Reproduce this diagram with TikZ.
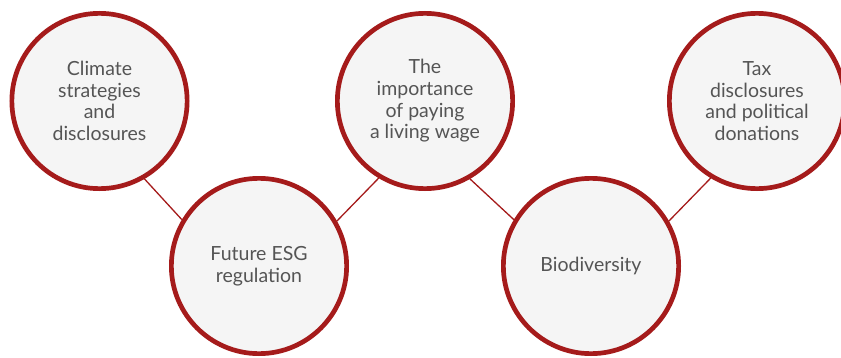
\documentclass[tikz,border=0pt]{standalone}
\usepackage{fontspec}
\setmainfont{Lato}
\usetikzlibrary{calc}

\definecolor{ringred}{HTML}{A51B1B}
\definecolor{discfill}{HTML}{F5F5F5}
\definecolor{labelgrey}{HTML}{555555}

\begin{document}
\begin{tikzpicture}[
		x=1pt,y=1pt,
		topic/.style={
			circle,
			draw=ringred,
			line width=4.7pt,
			fill=discfill,
			minimum size=175.3pt,
			inner sep=0pt,
			text=labelgrey,
			align=center,
			font=\fontsize{19.5}{21.7}\selectfont
		},
		link/.style={
			draw=ringred,
			line width=1.3pt
		}
	]
		\useasboundingbox (0,0) rectangle (841,357);

		\node[topic] (t1) at (99.5,256) {Climate\\strategies\\and\\disclosures};
		\node[topic] (t2) at (259,91) {Future ESG\\regulation};
		\node[topic] (t3) at (425,256) {The\\importance\\of paying\\a living wage};
		\node[topic] (t4) at (591,91) {Biodiversity};
		\node[topic] (t5) at (757,256) {Tax\\disclosures\\and political\\donations};

		\foreach \a/\b in {t1/t2,t3/t4}
			\draw[link] (\a.-60) -- (\b.149);
		\foreach \a/\b in {t2/t3,t4/t5}
			\draw[link] (\a.30) -- (\b.239);
	\end{tikzpicture}
\end{document}
